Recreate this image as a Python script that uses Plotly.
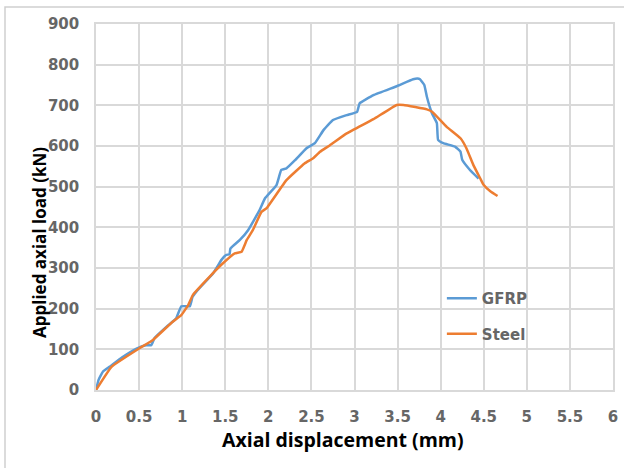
import plotly.graph_objects as go

gfrp_x = [0, 0.03, 0.08, 0.157, 0.3, 0.47, 0.58, 0.64, 0.68, 0.82, 0.93, 0.99, 1.09, 1.12, 1.165, 1.36, 1.456, 1.51, 1.55, 1.56,
          1.67, 1.765, 1.90, 1.96, 2.095, 2.15, 2.21, 2.31, 2.44, 2.54, 2.64, 2.75, 2.91, 3.03, 3.06, 3.22, 3.49, 3.68,
          3.73, 3.76, 3.81, 3.84, 3.90, 3.956, 3.97, 4.03, 4.17, 4.23, 4.25, 4.34, 4.44]
gfrp_y = [0, 25, 45, 57, 80, 102, 110, 110, 128, 156, 176, 206, 206, 229, 242, 287, 320, 332, 334, 348,
          369, 393, 443, 471, 504, 541, 545, 565, 594, 607, 639, 664, 676, 684, 705, 725, 747, 764,
          766, 764, 750, 721, 680, 656, 615, 607, 598, 586, 566, 541, 520]

steel_x = [0, 0.18, 0.5, 0.66, 0.89, 0.99, 1.07, 1.125, 1.32, 1.47, 1.61, 1.69, 1.75, 1.82, 1.92, 1.98, 2.21, 2.42,
           2.52, 2.6, 2.715, 2.91, 3.22, 3.49, 3.57, 3.84, 3.9, 4.07, 4.23, 4.30, 4.38, 4.46, 4.5, 4.58, 4.66]
steel_y = [0, 57, 102, 123, 168, 184, 209, 234, 279, 311, 336, 340, 369, 393, 438, 447, 516, 557,
           570, 586, 602, 631, 666, 701, 701, 690, 684, 647, 619, 594, 553, 520, 504, 488, 477]

x_ticks = [0, 0.5, 1, 1.5, 2, 2.5, 3, 3.5, 4, 4.5, 5, 5.5, 6]
y_ticks = [0, 100, 200, 300, 400, 500, 600, 700, 800, 900]

tick_font = dict(family="DejaVu Sans", size=15, color="#666666", weight="bold")

fig = go.Figure()
fig.add_trace(go.Scatter(x=gfrp_x, y=gfrp_y, mode="lines", name="GFRP", legendgroup="g",
                         line=dict(color="#5B9BD5", width=2.5, shape="spline", smoothing=0.3)))
fig.add_trace(go.Scatter(x=steel_x, y=steel_y, mode="lines", name="Steel", legendgroup="s",
                         line=dict(color="#ED7D31", width=2.5, shape="spline", smoothing=0.3)))

fig.update_layout(
    width=624, height=468,
    margin=dict(l=96, r=11, t=24, b=78, autoexpand=False),
    paper_bgcolor="white", plot_bgcolor="white",
    font=dict(family="Open Sans", color="#595959", size=14),
    showlegend=True,
    legend=dict(x=0.669, y=0.295, xanchor="left", yanchor="top", bgcolor="rgba(0,0,0,0)",
                font=tick_font, itemwidth=30, tracegroupgap=13),
    xaxis=dict(range=[0, 6], tickvals=x_ticks, ticktext=[str(v) for v in x_ticks],
               showgrid=True, gridcolor="#D9D9D9", gridwidth=1.5, zeroline=False,
               showline=True, linecolor="#D9D9D9", linewidth=1.5, mirror=True,
               ticks="", ticklabelstandoff=12, tickfont=tick_font, automargin=False),
    yaxis=dict(range=[0, 900], tickvals=y_ticks, ticktext=[str(v) for v in y_ticks],
               showgrid=True, gridcolor="#D9D9D9", gridwidth=1.5, zeroline=False,
               showline=True, linecolor="#D9D9D9", linewidth=1.5, mirror=True,
               ticks="", ticklabelstandoff=12, tickfont=tick_font, automargin=False),
    annotations=[
        dict(text="<b>Axial displacement (mm)</b>", xref="paper", yref="paper",
             x=(343 - 96) / 517, y=(390 - 439) / 366, xanchor="center", yanchor="middle",
             showarrow=False, font=dict(family="Open Sans", size=19.5, color="black")),
        dict(text="<b>Applied axial load (kN)</b>", xref="paper", yref="paper",
             x=(39 - 96) / 517, y=(390 - 243) / 366, xanchor="center", yanchor="middle",
             textangle=-90, showarrow=False, font=dict(family="Open Sans", size=17, color="black")),
    ],
    shapes=[dict(type="rect", xref="paper", yref="paper", x0=(5 - 96) / 517, x1=(640 - 96) / 517,
                 y0=(390 - 480) / 366, y1=(390 - 7) / 366,
                 line=dict(color="#CFCFCF", width=1.5), fillcolor="rgba(0,0,0,0)", layer="above")],
)

fig.write_html("out.html", config={"displayModeBar": False},
               post_script="document.body.style.margin='0';document.body.style.overflow='hidden';")
